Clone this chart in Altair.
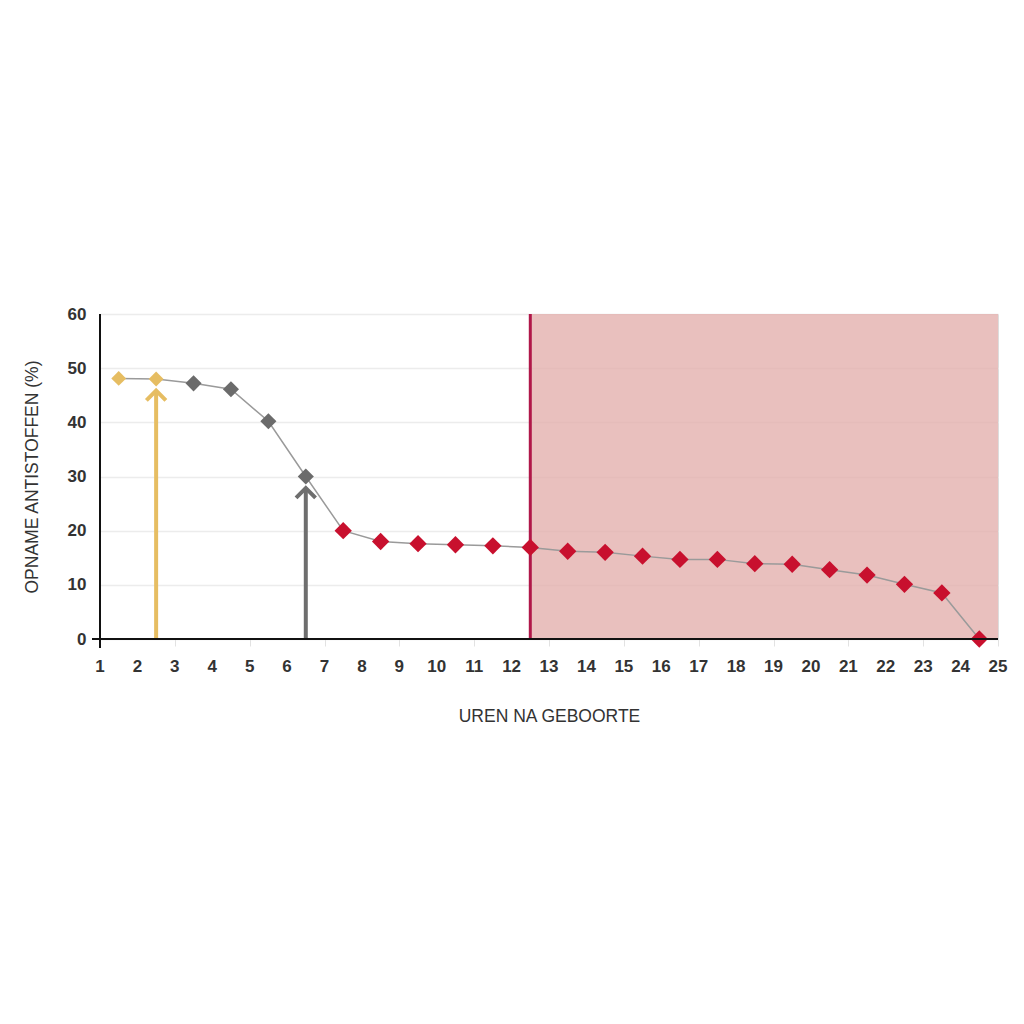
import altair as alt
import pandas as pd

hours = [1.5, 2.5, 3.5, 4.5, 5.5, 6.5, 7.5, 8.5, 9.5, 10.5, 11.5, 12.5,
         13.5, 14.5, 15.5, 16.5, 17.5, 18.5, 19.5, 20.5, 21.5, 22.5, 23.5, 24.5]
uptake = [48.1, 48.0, 47.2, 46.1, 40.2, 30.0, 20.0, 18.0, 17.6, 17.4, 17.2, 16.9,
          16.2, 16.0, 15.3, 14.7, 14.7, 13.9, 13.8, 12.8, 11.8, 10.1, 8.5, 0.0]
phase = ["geel"] * 2 + ["grijs"] * 4 + ["rood"] * 18

x_ticks = list(range(1, 26))
y_ticks = [0, 10, 20, 30, 40, 50, 60]

shade_start, shade_end = 12.5, 25
arrow_x = [2.5, 6.5]
arrow_top = [45.5, 27.5]
arrow_color = ["#e6bd62", "#6e6e6e"]

df = pd.DataFrame({"x": hours, "y": uptake, "phase": phase})
shade = pd.DataFrame({"x": [shade_start], "x2": [shade_end], "y": [0], "y2": [60]})
arrows = pd.DataFrame({"x": arrow_x, "y": [0, 0], "y2": arrow_top, "c": arrow_color})
xlab = pd.DataFrame({"x": x_ticks, "t": [str(v) for v in x_ticks]})

W, H = 898, 325
xs = alt.Scale(domain=[1, 25], nice=False, zero=False)
ys = alt.Scale(domain=[0, 60], nice=False)

font = "Liberation Sans"

x_enc = alt.X("x:Q", scale=xs,
              axis=alt.Axis(values=x_ticks, title="UREN NA GEBOORTE", grid=False,
                            labels=False,
                            tickColor="#e2e2e2", tickSize=7,
                            domain=False,
                            titleFont=font, titleFontWeight="normal", titleFontSize=17.5,
                            titleColor="#333333", titlePadding=61))
y_enc = alt.Y("y:Q", scale=ys,
              axis=alt.Axis(values=y_ticks, title="OPNAME ANTISTOFFEN (%)",
                            gridColor="#ececec", gridWidth=1.5,
                            labelFont=font, labelFontWeight="bold", labelFontSize=17,
                            labelColor="#333333", labelPadding=14,
                            ticks=False, domain=False,
                            titleFont=font, titleFontWeight="normal", titleFontSize=17.5,
                            titleColor="#333333", titlePadding=26))

shade_layer = alt.Chart(shade).mark_rect(color="#e3aeac", opacity=0.78).encode(
    x=x_enc, x2="x2:Q", y=y_enc, y2="y2:Q")

vline = alt.Chart(shade).mark_rule(color="#b01749", strokeWidth=3).encode(
    x="x:Q", y="y:Q", y2="y2:Q")

x_axis_line = alt.Chart(shade).mark_rule(color="#111111", strokeWidth=2).encode(
    x=alt.value(-8), x2=alt.value(W), y=alt.value(H))
y_axis_line = alt.Chart(shade).mark_rule(color="#111111", strokeWidth=2).encode(
    x=alt.value(0), y=alt.value(0), y2=alt.value(H + 9))

x_labels = alt.Chart(xlab).mark_text(
    font=font, fontWeight="bold", fontSize=17, color="#333333",
    baseline="middle", align="center").encode(
    x="x:Q", y=alt.value(H + 28), text="t:N")

line = alt.Chart(df).mark_line(color="#9a9a9a", strokeWidth=1.5).encode(x="x:Q", y="y:Q")

pts = alt.Chart(df).mark_point(shape="diamond", filled=True, opacity=1).encode(
    x="x:Q", y="y:Q",
    color=alt.Color("phase:N", scale=alt.Scale(domain=["geel", "grijs", "rood"],
                                                range=["#e6bd62", "#6b6b6b", "#c8102e"]),
                    legend=None),
    size=alt.Size("phase:N", scale=alt.Scale(domain=["geel", "grijs", "rood"],
                                              range=[220, 300, 460]), legend=None))

arrow_shaft = alt.Chart(arrows).mark_rule(strokeWidth=4).encode(
    x="x:Q", y="y:Q", y2="y2:Q", color=alt.Color("c:N", scale=None))

arrow_head = alt.Chart(arrows).mark_point(
    shape="M-1,0.8L0,-0.2L1,0.8", filled=False, strokeWidth=4, size=380,
    opacity=1, strokeJoin="miter").encode(
    x="x:Q", y="y2:Q", color=alt.Color("c:N", scale=None))

chart = alt.layer(shade_layer, vline, arrow_shaft, arrow_head, line, pts,
                  x_axis_line, y_axis_line, x_labels).properties(
    width=W, height=H,
    autosize=alt.AutoSizeParams(type="none"),
    padding={"left": 92, "top": 306, "right": 16, "bottom": 380},
).configure_view(stroke=None).configure(background="white")

chart.save("out.html", embed_options={"renderer": "svg", "actions": False})
